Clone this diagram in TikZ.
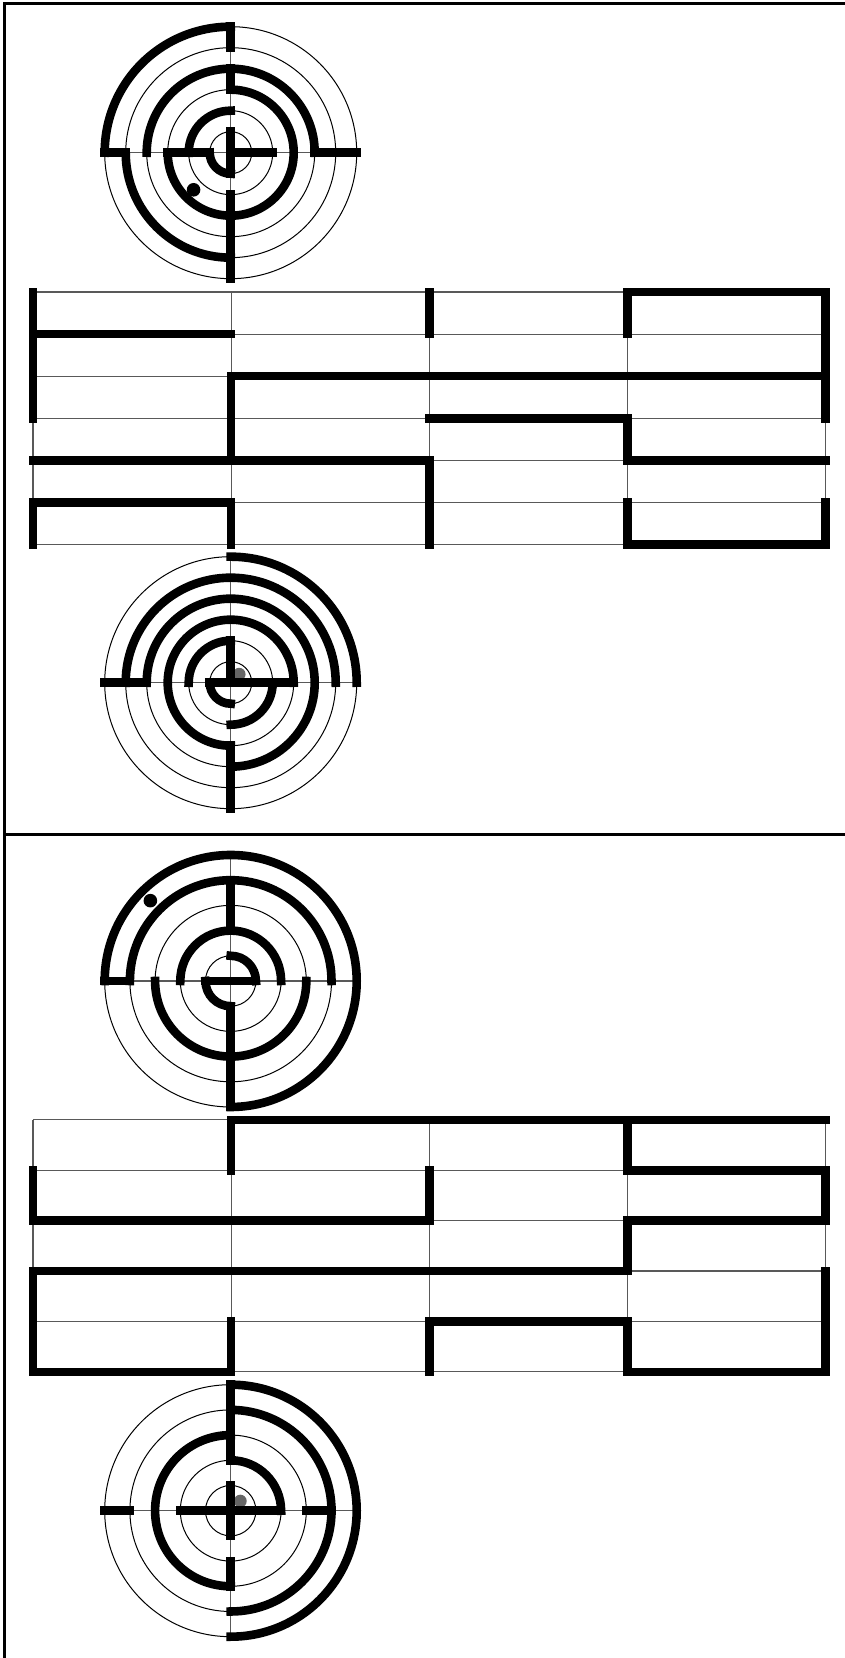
\documentclass[tikz,border=0pt]{standalone}
\tikzset{
  wall/.style={line width=4.3pt,line cap=rect},
  ring/.style={line width=0.5pt},
  axis/.style={line width=0.6pt,black!65},
  frameline/.style={line width=1.5pt}
}
% quarter arcs: ring/from/to, straight walls: ring/angle/ring/angle
\newcommand{\target}[7]{
  \begin{scope}[shift={(#1)}]
    \draw[axis] (180:#3*#2)--(0:#3*#2) (90:#3*#2)--(270:#3*#2);
    \foreach \r in {1,...,#3}
      \draw[ring] (0,0) circle (\r*#2);
    \fill[#6] (#7) circle (#5);
    \foreach \r/\a/\b in {#4}
      \draw[wall] (\a:\r*#2) arc (\a:\b:\r*#2);
  \end{scope}
}
\newcommand{\spokes}[3]{
  \begin{scope}[shift={(#1)}]
    \foreach \a/\p/\b/\q in {#3}
      \draw[wall] (\a:\p*#2)--(\b:\q*#2);
  \end{scope}
}
\newcommand{\unrolled}[4]{
  \begin{scope}[shift={(32.9,#1)},xscale=198.22,yscale=-#2]
    \foreach \y in {0,...,#3}
      \draw[axis] (0,\y)--(4,\y);
    \foreach \x in {0,...,4}
      \draw[axis] (\x,0)--(\x,#3);
    \foreach \xa/\ya/\xb/\yb in {#4}
      \draw[wall] (\xa,\ya)--(\xb,\yb);
  \end{scope}
}
\begin{document}
\begin{tikzpicture}[x=0.5pt,y=0.5pt]
  \useasboundingbox (0,0) rectangle (845,1658);
  \draw[frameline] (845,1654.5)--(4.8,1654.5)--(4.8,0);
  \draw[frameline] (4.8,823.5)--(845,823.5);
  % upper circle
  \target{230.7,1505.3}{21}{6}{6/90/180,5/180/270,4/0/180,3/-90/90,3/180/270,2/90/180,1/180/270}{3.4pt}{black}{225:52.5}
  \spokes{230.7,1505.3}{21}{0/4/0/6,0/0/0/2,180/6/180/5,180/3/180/1,90/6/90/5,90/4/90/3,90/1/270/1,270/2/270/6}
  \unrolled{1365.9}{42.05}{6}{0/0/0/3,0/5/0/6,1/2/1/4,1/5/1/6,2/0/2/1,2/4/2/6,3/0/3/1,3/3/3/4,3/5/3/6,4/0/4/3,4/5/4/6,3/0/4/0,0/1/1/1,1/2/4/2,2/3/3/3,0/4/2/4,3/4/4/4,0/5/1/5,3/6/4/6}
  \target{230.7,975.3}{21}{6}{6/0/90,5/0/180,4/-90/180,3/0/270,2/90/180,2/-90/0,1/180/270}{3.2pt}{black!60}{45:12}
  \spokes{230.7,975.3}{21}{180/6/180/4,180/1/0/3,90/2/90/0,270/3/270/6}
  % lower circle
  \target{230.7,677}{25.2}{5}{5/-90/180,4/0/180,3/180/360,2/0/180,1/0/90,1/180/270}{3.4pt}{black}{135:113.6}
  \spokes{230.7,677}{25.2}{180/5/180/4,180/1/0/1,90/4/90/2,270/1/270/5}
  \unrolled{538.1}{50.4}{5}{0/1/0/2,0/3/0/5,1/0/1/1,1/4/1/5,2/1/2/2,2/4/2/5,3/0/3/1,3/2/3/3,3/4/3/5,4/1/4/2,4/3/4/5,1/0/4/0,3/1/4/1,0/2/2/2,3/2/4/2,0/3/3/3,2/4/3/4,0/5/1/5,3/5/4/5}
  \target{230.7,147.3}{25.2}{5}{5/-90/90,4/-90/90,3/90/270,2/0/90}{3.2pt}{black!60}{45:13.6}
  \spokes{230.7,147.3}{25.2}{180/5/180/4,180/2/0/2,0/3/0/4,90/5/90/2,90/1/270/1,270/2/270/3}
\end{tikzpicture}
\end{document}
